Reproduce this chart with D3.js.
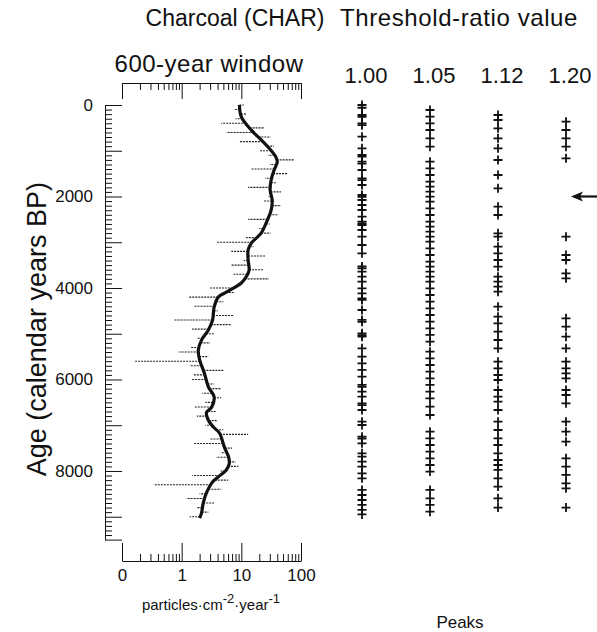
<!DOCTYPE html>
<html lang="en">
<head>
<meta charset="utf-8">
<title>Charcoal peaks</title>
<script src="https://d3js.org/d3.v7.min.js"></script>
<style>
  body { margin: 0; background: #fff; }
  svg text { font-family: "Liberation Sans", Arial, Helvetica, sans-serif; fill: #111; }
  .axis path, .axis line { stroke: #111; stroke-width: 1; }
  .axis text { font-size: 17px; }
</style>
</head>
<body>
<svg id="chart" width="597" height="632"></svg>
<script>
// smoothed CHAR (600-yr window): age BP, particles cm-2 yr-1
const smoothAge = [0, 260, 550, 760, 940, 1140, 1250, 1420, 1640, 1860, 2080, 2300, 2580, 2800, 3020, 3170, 3390, 3610, 3760, 3890, 4090, 4200, 4420, 4550, 4700, 4920, 5140, 5360, 5570, 5860, 6160, 6380, 6600, 6730, 6890, 7040, 7170, 7480, 7690, 7830, 7980, 8130, 8260, 8480, 8700, 8920, 9030];
const smoothVal = [9.3, 10, 14.7, 21.5, 29, 38, 40, 35.5, 31.6, 30.4, 32.9, 31.6, 26, 21.5, 14.7, 13, 13, 13.5, 12, 10, 5.6, 4.1, 3.5, 3.4, 3.3, 2.8, 2.15, 1.9, 2.0, 2.4, 2.8, 3.5, 3.2, 2.6, 2.8, 3.4, 4.3, 5.2, 6.1, 6.3, 5.6, 4.1, 3.2, 2.6, 2.3, 2.15, 2.0];

// raw CHAR samples, every 100 years from 0 to 9000 BP
const rawVal = [11, 7.5, 12, 8, 4.6, 24, 5.6, 31, 9.3, 35,
  20, 28, 76, 30, 14.7, 60, 25, 38, 13, 46,
  28, 24, 46, 30, 41, 13, 30, 20, 31, 12,
  3.8, 16, 6.8, 26, 11, 6.8, 24, 7.4, 29, 9,
  2.9, 7.7, 1.3, 5, 1.6, 4, 7.4, 0.73, 6.8, 1.5,
  3.5, 1.8, 3, 1.4, 0.9, 2.8, 0.16, 1.36, 5, 1.6,
  1.47, 3.5, 4.6, 2.2, 4.6, 2.5, 1.65, 3.8, 1.8, 4,
  2.5, 5, 13, 3, 1.58, 7, 4.5, 3.8, 8, 8.9,
  4.5, 1.5, 6, 0.34, 4.6, 2, 1.2, 3.5, 1.8, 2.8,
  1.36];
const rawAge = rawVal.map((v, i) => i * 100);

// peaks identified at each threshold-ratio value (age BP)
const thresholds = ["1.00", "1.05", "1.12", "1.20"];
const peaks100 = [0, 60, 219, 260, 401, 440, 692, 947, 1093, 1130, 1239, 1280, 1421, 1603, 1640, 1749, 1967, 2010, 2077, 2186, 2295, 2441, 2550, 2590, 2623, 2732, 2878, 3060, 3242, 3530, 3570, 3643, 3752, 3862, 4007, 4117, 4226, 4260, 4481, 4699, 4740, 4991, 5030, 5064, 5319, 5501, 5647, 5792, 5938, 6120, 6160, 6266, 6375, 6521, 6560, 6667, 6922, 6995, 7250, 7290, 7395, 7614, 7687, 7796, 7905, 8051, 8160, 8415, 8525, 8634, 8743, 8852, 8950];
const peaks105 = [109, 255, 401, 546, 729, 911, 1239, 1384, 1530, 1676, 1785, 1894, 2004, 2113, 2259, 2404, 2550, 2659, 2769, 2878, 2987, 3133, 3279, 3424, 3534, 3643, 3752, 3862, 4007, 4153, 4299, 4444, 4590, 4736, 4882, 5027, 5173, 5392, 5537, 5683, 5829, 5974, 6120, 6266, 6412, 6594, 6776, 7140, 7286, 7432, 7577, 7723, 7869, 8014, 8415, 8597, 8743, 8889];
const peaks112 = [219, 328, 510, 729, 947, 1202, 1530, 1822, 2222, 2404, 2805, 2878, 3097, 3242, 3388, 3534, 3752, 3862, 3971, 4080, 4408, 4627, 4772, 4954, 5137, 5319, 5610, 5756, 5902, 6011, 6230, 6375, 6484, 6667, 6922, 7104, 7286, 7432, 7614, 7760, 7869, 7978, 8160, 8342, 8597, 8800];
const peaks120 = [364, 546, 729, 911, 1166, 2878, 3279, 3388, 3679, 3789, 4663, 4845, 5064, 5319, 5610, 5756, 5865, 5974, 6230, 6339, 6521, 6922, 7140, 7359, 7723, 7905, 8087, 8270, 8379, 8800];
const peakSets = [peaks100, peaks105, peaks112, peaks120];

const arrowAge = 2000;
const xTicksMajor = [0.1, 1, 10, 100];
const yLabelTicks = [0, 2000, 4000, 6000, 8000];

const svg = d3.select("#chart");

const y = d3.scaleLinear().domain([0, 9500]).range([105, 539.6]);
const x = d3.scaleLog().domain([0.1, 100]).range([122, 301]);
const col = d3.scalePoint().domain(thresholds).range([362, 566]);

// log tick values: 0.1..0.9, 1..9, 10..90, 100
const xTicksAll = [];
[0.1, 1, 10].forEach(b => { for (let k = 1; k < 10; k++) xTicksAll.push(+(b * k).toPrecision(3)); });
xTicksAll.push(100);
const isMajor = v => xTicksMajor.indexOf(v) !== -1;

// ---- titles
svg.append("text").attr("x", 235).attr("y", 26).attr("text-anchor", "middle")
  .style("font-size", "23px").text("Charcoal (CHAR)");
svg.append("text").attr("x", 459).attr("y", 26).attr("text-anchor", "middle")
  .style("font-size", "24px").style("letter-spacing", "0.6px").text("Threshold-ratio value");
svg.append("text").attr("x", 209).attr("y", 72).attr("text-anchor", "middle")
  .style("font-size", "24px").style("letter-spacing", "0.5px").text("600-year window");

// ---- top axis (ticks only)
const topAxis = svg.append("g").attr("class", "axis").attr("transform", "translate(0,83)")
  .call(d3.axisBottom(x).tickValues(xTicksAll).tickSizeInner(7).tickSizeOuter(0).tickFormat(""));
topAxis.selectAll(".tick line").attr("y2", d => isMajor(d) ? 16 : 7);

// ---- bottom axis, ticks pointing up
const botAxis = svg.append("g").attr("class", "axis").attr("transform", "translate(0,561)")
  .call(d3.axisBottom(x).tickValues(xTicksAll).tickSizeInner(-7).tickSizeOuter(0).tickPadding(8)
    .tickFormat(d => isMajor(d) ? (d === 0.1 ? "0" : d3.format("d")(d)) : ""));
botAxis.selectAll(".tick line").attr("y2", d => isMajor(d) ? -18 : -7);
botAxis.selectAll(".tick text").attr("dy", "0.71em");

// units
const units = svg.append("text").attr("x", 211).attr("y", 610).attr("text-anchor", "middle")
  .style("font-size", "15px");
units.append("tspan").text("particles\u00b7cm");
units.append("tspan").attr("dy", -7).style("font-size", "13px").text("-2");
units.append("tspan").attr("dy", 7).text("\u00b7year");
units.append("tspan").attr("dy", -7).style("font-size", "13px").text("-1");

// ---- left axis, ticks pointing right
const yTicks = d3.range(0, 9501, 100);
const leftAxis = svg.append("g").attr("class", "axis").attr("transform", "translate(105,0)")
  .call(d3.axisLeft(y).tickValues(yTicks).tickSizeInner(-7).tickSizeOuter(0).tickPadding(12)
    .tickFormat(d => yLabelTicks.indexOf(d) !== -1 ? d : ""));
leftAxis.selectAll(".tick line").attr("x2", d => (d % 1000 === 0 || d === 9500) ? 17 : 7);

svg.append("text")
  .attr("transform", "translate(46," + (y(4900)) + ") rotate(-90)")
  .attr("text-anchor", "middle").style("font-size", "27px")
  .text("Age (calendar years BP)");

// ---- raw CHAR: horizontal dotted excursions from the smoothed record
const smoothAt = d3.scaleLinear().domain(smoothAge).range(smoothVal.map(Math.log10)).clamp(true);
svg.append("g").selectAll("line").data(rawAge.map((a, i) => [a, rawVal[i]])).join("line")
  .attr("x1", d => x(Math.pow(10, smoothAt(d[0]))))
  .attr("x2", d => x(d[1]))
  .attr("y1", d => y(d[0])).attr("y2", d => y(d[0]))
  .attr("stroke", "#222").attr("stroke-width", 1.1).attr("stroke-dasharray", "2,1");

// ---- smoothed CHAR
const smoothLine = d3.line().x(d => x(d[1])).y(d => y(d[0])).curve(d3.curveCatmullRom.alpha(0.5));
svg.append("path")
  .datum(smoothAge.map((a, i) => [a, smoothVal[i]]))
  .attr("d", smoothLine)
  .attr("fill", "none").attr("stroke", "#111").attr("stroke-width", 3.2)
  .attr("stroke-linejoin", "round");

// ---- threshold-ratio headers and peak crosses
svg.selectAll("text.thr").data(thresholds).join("text")
  .attr("class", "thr")
  .attr("x", d => col(d) + 4).attr("y", 83).attr("text-anchor", "middle")
  .style("font-size", "22px").text(d => d);

const cross = "M-4.5,0H4.5M0,-4.5V4.5";
thresholds.forEach((t, i) => {
  svg.append("g").selectAll("path").data(peakSets[i]).join("path")
    .attr("transform", d => "translate(" + col(t) + "," + y(d) + ")")
    .attr("d", cross)
    .attr("stroke", "#111").attr("stroke-width", 1.8).attr("fill", "none");
});

// ---- arrow
const ay = y(arrowAge);
svg.append("line").attr("x1", 580).attr("y1", ay).attr("x2", 597).attr("y2", ay)
  .attr("stroke", "#111").attr("stroke-width", 2.2);
svg.append("path")
  .attr("d", "M571," + ay + "L583," + (ay - 5) + "L580," + ay + "L583," + (ay + 5) + "Z")
  .attr("fill", "#111");

svg.append("text").attr("x", 460).attr("y", 628).attr("text-anchor", "middle")
  .style("font-size", "17px").text("Peaks");
</script>
</body>
</html>
